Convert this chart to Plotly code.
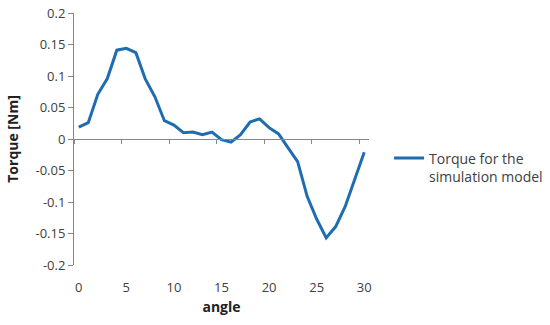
import plotly.graph_objects as go

angle = list(range(31))
torque = [0.019, 0.026, 0.071, 0.096, 0.141, 0.144, 0.137, 0.095, 0.067, 0.029,
          0.022, 0.010, 0.011, 0.007, 0.011, -0.001, -0.005, 0.007, 0.027, 0.032,
          0.018, 0.008, -0.014, -0.036, -0.091, -0.127, -0.157, -0.139, -0.107, -0.065,
          -0.021]
series_name = "Torque for the<br>simulation model"
x_ticks = [0, 5, 10, 15, 20, 25, 30]
y_ticks = [0.2, 0.15, 0.1, 0.05, 0, -0.05, -0.1, -0.15, -0.2]
y_ticktext = ["0.2", "0.15", "0.1", "0.05", "0", "-0.05", "-0.1", "-0.15", "-0.2"]

font_fam = "Open Sans, Noto Sans, sans-serif"
axis_col = "#868686"
text_col = "#404040"

fig = go.Figure()
fig.add_trace(go.Scatter(x=angle, y=torque, mode="lines", name=series_name,
                         line=dict(color="#1f6db1", width=3), showlegend=True))
# invisible trace for the zero-crossing axis
fig.add_trace(go.Scatter(x=angle, y=torque, xaxis="x2", mode="lines",
                         line=dict(width=0), hoverinfo="skip", showlegend=False, opacity=0))

xr = [-0.5, 30.5]
fig.update_layout(
    width=550, height=325,
    margin=dict(l=74, r=181, t=13, b=60, autoexpand=False),
    paper_bgcolor="white", plot_bgcolor="white",
    font=dict(family=font_fam, size=13, color=text_col),
    xaxis=dict(range=xr, tickvals=x_ticks, ticktext=[str(v) for v in x_ticks],
               showline=False, showgrid=False, zeroline=False, ticks="",
               automargin=False, ticklabelstandoff=13,
               tickfont=dict(size=13, color=text_col),
               title=dict(text="<b>angle</b>", font=dict(size=14, color="#222"), standoff=7)),
    xaxis2=dict(range=xr, overlaying="x", anchor="free", position=0.5,
                showline=True, linecolor=axis_col, linewidth=1, automargin=False,
                showticklabels=False, showgrid=False, zeroline=False, ticks="",
                minor=dict(tickvals=[-0.5, 4.5, 9.5, 14.5, 19.5, 24.5, 29.5],
                           ticks="outside", ticklen=4, tickcolor=axis_col, tickwidth=1)),
    yaxis=dict(range=[-0.2, 0.2], tickvals=y_ticks, ticktext=y_ticktext,
               showline=True, linecolor=axis_col, linewidth=1,
               ticks="outside", ticklen=5, tickcolor=axis_col, tickwidth=1,
               showgrid=False, zeroline=False, automargin=False,
               tickfont=dict(size=13, color=text_col),
               title=dict(text="<b>Torque [Nm]</b>", font=dict(size=14, color="#222"), standoff=13)),
    legend=dict(x=1.068, y=0.387, xanchor="left", yanchor="middle", valign="top",
                font=dict(size=14, color=text_col), bgcolor="rgba(0,0,0,0)",
                itemwidth=30, tracegroupgap=0),
)
fig.write_html("out.html", config={"displayModeBar": False},
               post_script="document.body.style.margin='0';")
